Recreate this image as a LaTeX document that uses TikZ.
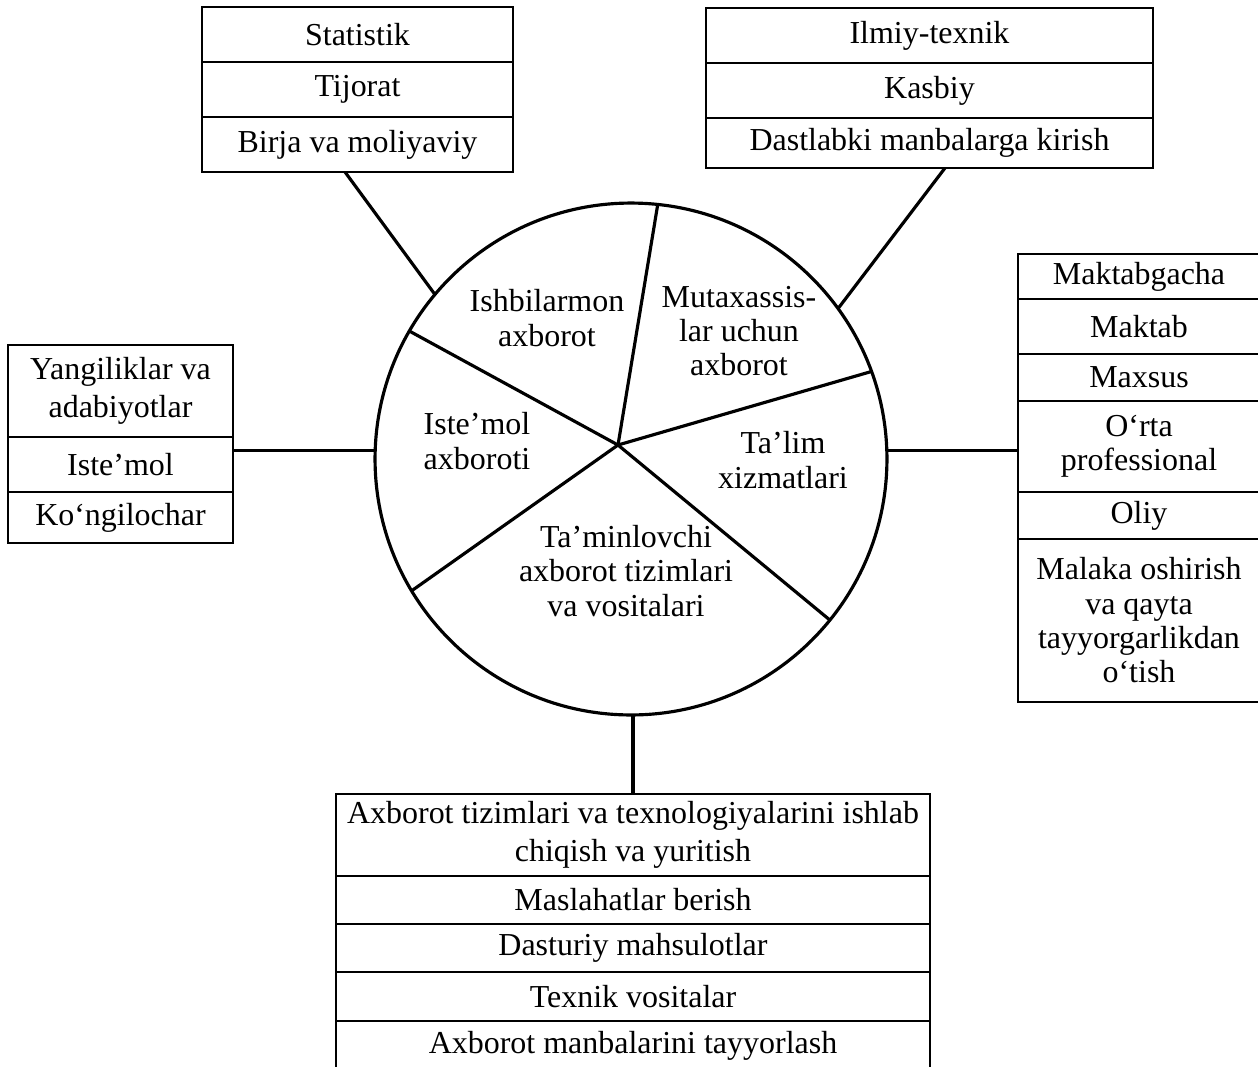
\documentclass[tikz,border=0pt]{standalone}
\usepackage{fontspec}
\setmainfont{Liberation Serif}
\usetikzlibrary{positioning}

\begin{document}
\begin{tikzpicture}[x=0.02cm,y=-0.02cm,
  font=\fontsize{18.2}{19.5}\selectfont,
  cell/.style={draw,line width=1.1pt,outer sep=0pt,inner sep=0pt,align=center,minimum width=#1},
  wide/.style={font=\fontsize{18.2}{21.5}\selectfont},
  spoke/.style={line width=1.8pt}]
\useasboundingbox (0,0) rectangle (1258,1066);

\node [circle,draw,line width=1.8pt,minimum size=10.24cm,inner sep=0pt,outer sep=0pt] (pie) at (631,459) {};
\coordinate (hub) at (618,445);
\foreach \a in {84.2,20.1,-39.9,211,150.9}
  \draw [spoke] (hub) -- (pie.\a);

\node [align=center] (t1) at (547,318) {Ishbilarmon\\axborot};
\node [align=center] (t2) at (739,331) {Mutaxassis-\\lar uchun\\axborot};
\node [align=center] (t3) at (477,441) {Iste’mol\\axboroti};
\node [align=center] (t4) at (783,460) {Ta’lim\\xizmatlari};
\node [align=center] (t5) at (626,571) {Ta’minlovchi\\axborot tizimlari\\va vositalari};

% top left
\node [cell=6.22cm,minimum height=1.1cm] (a1) at (357.5,34.5) {Statistik};
\node [cell=6.22cm,minimum height=1.1cm,below=0pt of a1] (a2) {Tijorat};
\node [cell=6.22cm,minimum height=1.1cm,below=0pt of a2] (a3) {Birja va moliyaviy};

% top right
\node [cell=8.94cm,minimum height=1.1cm] (b1) at (929.5,35.5) {Ilmiy-texnik};
\node [cell=8.94cm,minimum height=1.1cm,below=0pt of b1] (b2) {Kasbiy};
\node [cell=8.94cm,minimum height=1cm,below=0pt of b2] (b3) {Dastlabki manbalarga kirish};

% right
\node [cell=4.84cm,minimum height=0.9cm] (c1) at (1139,276.5) {Maktabgacha};
\node [cell=4.84cm,minimum height=1.1cm,below=0pt of c1] (c2) {Maktab};
\node [cell=4.84cm,minimum height=0.94cm,below=0pt of c2] (c3) {Maxsus};
\node [cell=4.84cm,minimum height=1.82cm,below=0pt of c3] (c4) {O‘rta\\professional};
\node [cell=4.84cm,minimum height=0.94cm,below=0pt of c4] (c5) {Oliy};
\node [cell=4.84cm,minimum height=3.26cm,below=0pt of c5] (c6) {Malaka oshirish\\va qayta\\tayyorgarlikdan\\o‘tish};

% left
\node [cell=4.5cm,wide,minimum height=1.84cm] (d1) at (120.5,391) {Yangiliklar va\\adabiyotlar};
\node [cell=4.5cm,minimum height=1.1cm,below=0pt of d1] (d2) {Iste’mol};
\node [cell=4.5cm,minimum height=1.02cm,below=0pt of d2] (d3) {Ko‘ngilochar};

% bottom
\node [cell=11.88cm,wide,minimum height=1.64cm] (e1) at (633,835) {Axborot tizimlari va texnologiyalarini ishlab\\chiqish va yuritish};
\node [cell=11.88cm,minimum height=0.96cm,below=0pt of e1] (e2) {Maslahatlar berish};
\node [cell=11.88cm,minimum height=0.96cm,below=0pt of e2] (e3) {Dasturiy mahsulotlar};
\node [cell=11.88cm,minimum height=0.98cm,below=0pt of e3] (e4) {Texnik vositalar};
\node [cell=11.88cm,minimum height=0.98cm,below=0pt of e4] (e5) {Axborot manbalarini tayyorlash};

\draw [spoke] (pie.140.9) -- ([xshift=-0.25cm]a3.south);
\draw [spoke] (pie.36.6) -- ([xshift=0.31cm]b3.south);
\draw [spoke] (pie.2) -- (pie.2 -| c4.west);
\draw [spoke] (pie.178) -- (pie.178 -| d2.east);
\draw [spoke] (e1.north |- pie.south) -- (e1.north);
\end{tikzpicture}
\end{document}
